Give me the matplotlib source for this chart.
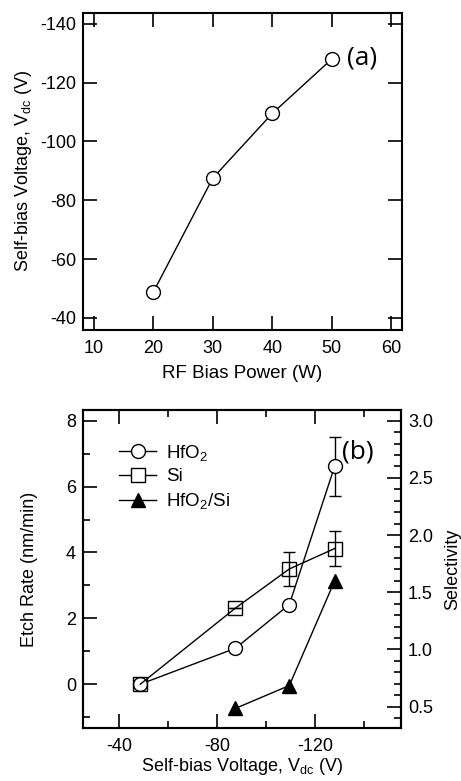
import matplotlib
matplotlib.use("Agg")
import matplotlib.pyplot as plt
from matplotlib.ticker import MultipleLocator, FormatStrFormatter
from matplotlib.lines import Line2D

plt.rcParams['font.family'] = ['Liberation Sans', 'DejaVu Sans']
plt.rcParams['mathtext.fontset'] = 'custom'
plt.rcParams['mathtext.rm'] = 'Liberation Sans'
plt.rcParams['mathtext.it'] = 'Liberation Sans:italic'
plt.rcParams['mathtext.bf'] = 'Liberation Sans:bold'
plt.rcParams['axes.unicode_minus'] = False

# ---- data ----
rf_power = [20, 30, 40, 50]
vdc = [-48.7, -87.5, -109.5, -128.0]

hfo2_rate = [0.0, 1.09, 2.42, 6.62]
hfo2_err = [0.0, 0.0, 0.0, 0.89]
si_rate = [0.0, 2.31, 3.50, 4.12]
si_err = [0.0, 0.0, 0.53, 0.54]
sel_vdc = [-87.5, -109.5, -128.0]
selectivity = [0.485, 0.685, 1.60]

fig = plt.figure(figsize=(4.61, 7.81), dpi=100)

FS = 13
LW = 1.0
MS = 10
PANEL_FONT = ['Open Sans', 'DejaVu Sans']

# ---- panel (a) ----
ax1 = fig.add_axes([0.180, 0.5775, 0.692, 0.406])
ax1.plot(rf_power, vdc, color='black', lw=LW, marker='o', ms=MS,
         mfc='white', mec='black', mew=1.0)
ax1.set_xlim(8.2, 61.8)
ax1.set_ylim(-35.9, -143.7)
ax1.xaxis.set_major_locator(MultipleLocator(10))
ax1.yaxis.set_major_locator(MultipleLocator(20))
ax1.tick_params(direction='in', length=10, width=1.2, top=True, right=True,
                labelsize=FS)
ax1.tick_params(axis='x', pad=7)
ax1.tick_params(axis='y', pad=5)
for s in ax1.spines.values():
    s.set_linewidth(1.5)
ax1.set_xlabel('RF Bias Power (W)', fontsize=FS + 0.5, labelpad=6)
ax1.set_ylabel(r'Self-bias Voltage, V$_{\mathrm{dc}}$ (V)', fontsize=FS, labelpad=4)
ax1.text(52.6, -128.5, '(a)', fontsize=19, ha='left', va='center',
         family=PANEL_FONT)

# ---- panel (b) ----
ax2 = fig.add_axes([0.180, 0.0679, 0.690, 0.4072])
ax2.errorbar(vdc, hfo2_rate, yerr=hfo2_err, color='black', lw=LW, marker='o',
             ms=MS, mfc='white', mec='black', mew=1.0, capsize=4,
             elinewidth=1.0, capthick=1.0, label='HfO$_2$')
ax2.errorbar(vdc, si_rate, yerr=si_err, color='black', lw=LW, marker='s',
             ms=MS, mfc='none', mec='black', mew=1.0, capsize=4,
             elinewidth=1.0, capthick=1.0, label='Si')
ax2.set_xlim(-25.3, -155.1)
ax2.set_ylim(-1.33, 8.33)
ax2.xaxis.set_major_locator(MultipleLocator(40))
ax2.xaxis.set_minor_locator(MultipleLocator(20))
ax2.yaxis.set_major_locator(MultipleLocator(2))
ax2.yaxis.set_minor_locator(MultipleLocator(1))
ax2.tick_params(which='major', direction='in', length=10, width=1.2,
                top=True, right=False, labelsize=FS)
ax2.tick_params(which='minor', direction='in', length=5, width=1.2,
                top=True, right=False)
ax2.tick_params(axis='x', pad=7)
ax2.tick_params(axis='y', pad=5)
for s in ax2.spines.values():
    s.set_linewidth(1.5)
ax2.set_xlabel(r'Self-bias Voltage, V$_{\mathrm{dc}}$ (V)', fontsize=FS, labelpad=1)
ax2.set_ylabel('Etch Rate (nm/min)', fontsize=FS, labelpad=20)

ax3 = ax2.twinx()
ax3.plot(sel_vdc, selectivity, color='black', lw=LW, marker='^', ms=MS,
         mfc='black', mec='black', label='HfO$_2$/Si')
ax3.set_ylim(0.314, 3.094)
ax3.yaxis.set_major_locator(MultipleLocator(0.5))
ax3.yaxis.set_minor_locator(MultipleLocator(0.1))
ax3.yaxis.set_major_formatter(FormatStrFormatter('%.1f'))
ax3.tick_params(which='major', direction='in', length=10, width=1.2,
                labelsize=FS, pad=5)
ax3.tick_params(which='minor', direction='in', length=5, width=1.2)
ax3.set_ylabel('Selectivity', fontsize=FS, labelpad=8)
for s in ax3.spines.values():
    s.set_linewidth(1.5)
ax3.text(-131.0, 7.05, '(b)', fontsize=19, ha='left', va='center',
         transform=ax2.transData, family=PANEL_FONT)

handles = [
    Line2D([], [], color='black', lw=LW, marker='o', ms=MS, mfc='white', mec='black'),
    Line2D([], [], color='black', lw=LW, marker='s', ms=MS, mfc='white', mec='black'),
    Line2D([], [], color='black', lw=LW, marker='^', ms=MS, mfc='black', mec='black'),
]
labels = ['HfO$_2$', 'Si', 'HfO$_2$/Si']
ax3.legend(handles, labels, loc='upper left', bbox_to_anchor=(0.06, 0.95),
           frameon=False, fontsize=FS + 0.5, handlelength=2.0, handletextpad=0.5,
           labelspacing=0.3)

fig.savefig('out.png', dpi=100)
